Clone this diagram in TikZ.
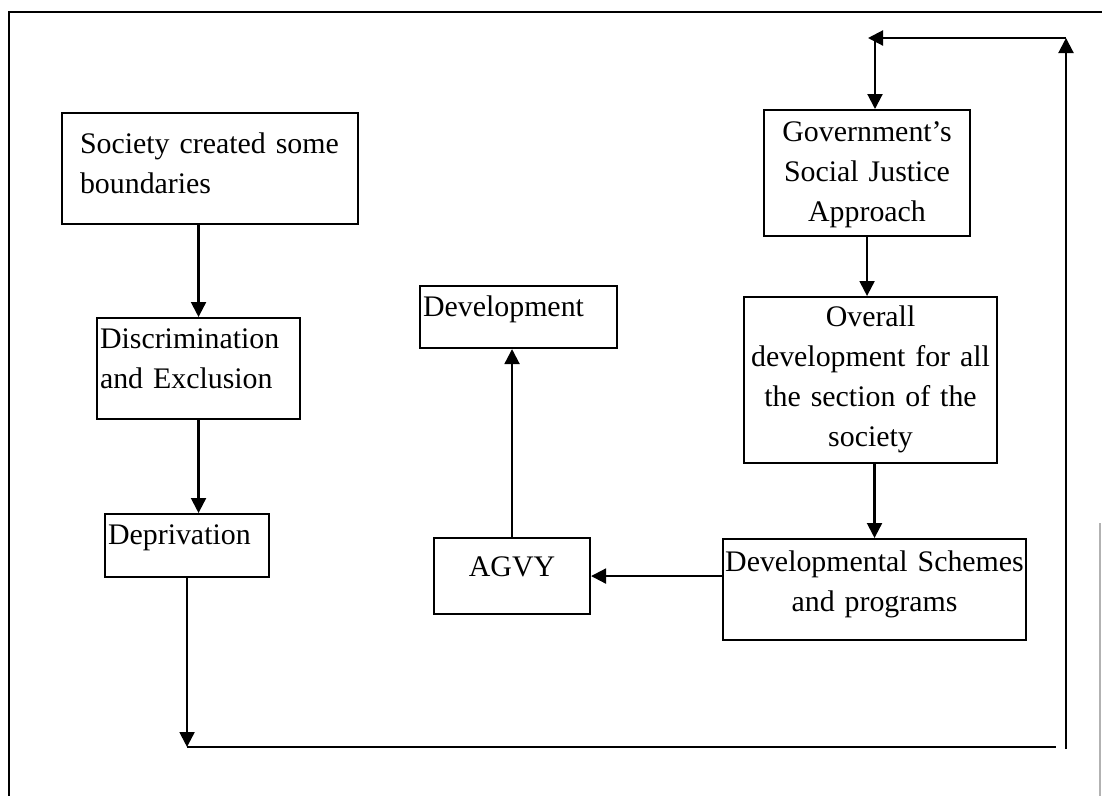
\documentclass[tikz,border=0pt]{standalone}
\usepackage{fontspec}
\setmainfont{Liberation Serif}
\usetikzlibrary{arrows.meta}

\tikzset{every picture/.style={line width=1.2pt}}
\tikzset{
  blk/.style={draw, anchor=north west, inner xsep=0.06cm,
    font=\fontsize{17}{22.8}\selectfont, text height=0.45cm},
  arr/.style={-{Triangle[length=0.3cm,width=0.3cm]}}
}

\begin{document}
\begin{tikzpicture}[x=0.02cm,y=-0.02cm]
        \useasboundingbox (0,0) rectangle (1102,796);
        % page frame
        \draw[line width=1.5pt] (8,12) -- (1102,12);
        \draw (9,12) -- (9,796);
        \draw[gray!60,line width=0.6pt] (1100,523) -- (1100,796);

        \node[blk, align=left, text width=5.2cm, inner xsep=0.36cm, inner ysep=0.35cm, text depth=1.07cm] (soc) at (61,112) {Society created some\\boundaries};
        \node[blk, align=left, text width=3.94cm, inner ysep=0.15cm, text depth=1.27cm] (disc) at (96,317) {Discrimination\\and Exclusion};
        \node[blk, align=left, text width=3.16cm, inner ysep=0.15cm, text depth=0.51cm] (dep) at (104,513) {Deprivation};
        \node[blk, align=left, text width=3.82cm, inner ysep=0.15cm, text depth=0.49cm] (dev) at (419,285) {Development};
        \node[blk, align=center, text width=3.0cm, inner ysep=0.31cm, text depth=0.45cm] (agvy) at (433,537) {AGVY};
        \node[blk, align=center, text width=4.0cm, inner ysep=0.17cm, text depth=1.73cm] (gov) at (763,109) {Government's\\Social Justice\\Approach};
        \node[blk, align=center, text width=4.94cm, inner ysep=0.13cm, text depth=2.61cm] (over) at (743,296) {Overall\\development for all\\the section of the\\society};
        \node[blk, align=center, text width=6.02cm, inner xsep=0.02cm, inner ysep=0.19cm, text depth=1.19cm] (sch) at (722,538) {Developmental Schemes\\and programs};

        \coordinate (bl) at (186,747);
        \coordinate (br) at (1056,747);
        \coordinate (rb) at (1066,749);
        \coordinate (rt) at (1066,38);
        \coordinate (tl) at (868,38);
        \coordinate (gt) at (875,38);

        \draw[arr] (disc.north |- soc.south) -- (disc.north);
        \draw[arr] (disc.south) -- (disc.south |- dep.north);
        \draw[arr] (dep.south) -- (dep.south |- bl);
        \draw (dep.south |- bl) -- (br);
        \draw[arr] (rb) -- (rt);
        \draw[arr] (rt) -- (tl);
        \draw[arr] (gt) -- (gt |- gov.north);
        \draw[arr] (gov.south) -- (gov.south |- over.north);
        \draw[arr] (sch.north |- over.south) -- (sch.north);
        \draw[arr] (sch.west |- agvy.east) -- (agvy.east);
        \draw[arr] (agvy.north) -- (agvy.north |- dev.south);
    \end{tikzpicture}
\end{document}
